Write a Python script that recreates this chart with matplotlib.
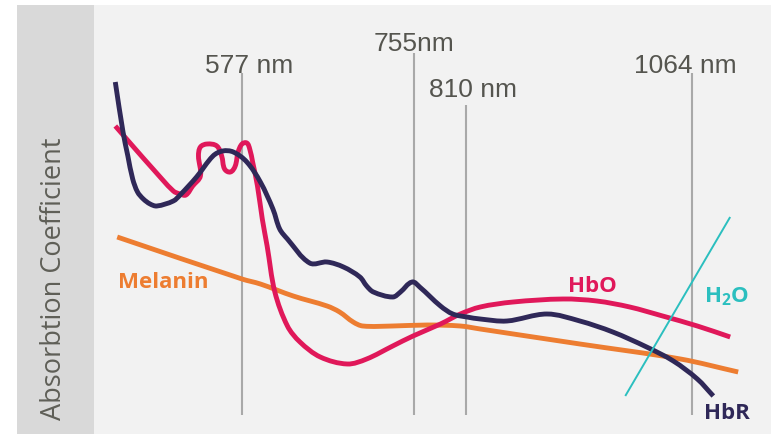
import numpy as np
import matplotlib
matplotlib.use("Agg")
import matplotlib.pyplot as plt
from matplotlib.patches import Rectangle, PathPatch
from matplotlib.path import Path

# ---------------- data (wavelength in nm, absorption in arbitrary units) ----------------
marker_nm = [577, 755, 810, 1064]
marker_labels = ["577 nm", "755nm", "810 nm", "1064 nm"]
marker_top = [361, 381, 329, 361]

hbr_nm = [446, 454, 459, 464, 469, 475, 482, 489, 506, 513, 530, 547, 557, 568, 582,
          596, 609, 616, 624, 647, 665, 682, 699, 706, 713, 733, 741, 753, 761, 783,
          796, 811, 826, 856, 901, 938, 975, 1013, 1043, 1070, 1088]
hbr_val = [352, 302, 278, 255, 242, 235, 230, 228, 233, 239, 257, 278, 283, 282, 272,
           252, 225, 205, 195, 171, 172, 167, 157, 148, 142, 137, 142, 152, 147, 128,
           120, 117, 115, 113, 120, 113, 102, 87, 73, 55, 38]

hbo_nm = [446, 464, 485, 506, 513, 519, 526, 534, 532, 534, 541, 551, 556, 559, 565,
          570, 573, 577, 582, 585, 588, 593, 598, 603, 611, 624, 637, 658, 686, 706,
          733, 754, 783, 804, 826, 863, 919, 957, 994, 1031, 1070, 1107]
hbo_val = [308, 288, 265, 243, 240, 239, 248, 258, 278, 287, 290, 288, 278, 265, 262,
           268, 282, 290, 291, 285, 272, 248, 215, 188, 142, 108, 92, 77, 70, 75,
           88, 98, 110, 120, 127, 132, 135, 133, 127, 118, 108, 97]

mel_nm = [448, 577, 596, 630, 665, 678, 692, 702, 733, 769, 804, 826, 938, 1051, 1116]
mel_val = [197, 155, 150, 138, 128, 122, 112, 108, 108, 109, 108, 105, 90, 75, 62]

h2o_nm = [989, 1107]
h2o_val = [38, 217]

# ---------------- figure ----------------
W, H = 775, 435
fig = plt.figure(figsize=(W / 100, H / 100), dpi=100)
fig.patch.set_facecolor("white")


def fx(px):
    return px / W


def fy(py):
    return 1 - py / H


# background panels
fig.patches.append(Rectangle((fx(17), 0), fx(94) - fx(17), fy(6), transform=fig.transFigure,
                             facecolor="#d9d9d9", edgecolor="none", zorder=-2))
fig.patches.append(Rectangle((fx(94), 0), fx(771) - fx(94), fy(6), transform=fig.transFigure,
                             facecolor="#f2f2f2", edgecolor="none", zorder=-2))

ax = fig.add_axes([fx(94), 0, fx(771) - fx(94), fy(6)])
ax.set_facecolor("none")
ax.set_zorder(1)

# piecewise-linear wavelength scale (the original axis is not linear)
anchor_nm = np.array([424.0, 577, 755, 810, 1064, 1153])
anchor_pos = np.array([94.0, 242, 414, 466, 692, 771])


def fwd(x):
    return np.interp(x, anchor_nm, anchor_pos)


def inv(p):
    return np.interp(p, anchor_pos, anchor_nm)


ax.set_xscale("function", functions=(fwd, inv))
ax.set_xlim(424, 1153)
ax.set_ylim(0, 429)
ax.axis("off")


def smooth_path(xs, ys):
    """Smooth Bezier path passing through every data point."""
    p = np.column_stack([np.asarray(xs, float), np.asarray(ys, float)])
    n = len(p)
    tang = np.zeros_like(p)
    for i in range(n):
        a = p[max(i - 1, 0)]
        b = p[min(i + 1, n - 1)]
        d = b - a
        nrm = np.hypot(*d)
        tang[i] = d / nrm if nrm > 0 else d
    verts = [p[0]]
    codes = [Path.MOVETO]
    for i in range(n - 1):
        L = np.hypot(*(p[i + 1] - p[i])) / 3.0
        verts += [p[i] + tang[i] * L, p[i + 1] - tang[i + 1] * L, p[i + 1]]
        codes += [Path.CURVE4] * 3
    return Path(np.array(verts), codes)


def curve(xs, ys, color, lw, z):
    ax.add_patch(PathPatch(smooth_path(xs, ys), facecolor="none", edgecolor=color,
                           lw=lw, capstyle="butt", joinstyle="round", zorder=z))


tick_color = "#55554f"
for nm, top in zip(marker_nm, marker_top):
    ax.plot([nm, nm], [19, top], color="#a9a9a9", lw=1.5, zorder=1, solid_capstyle="butt")

label_x = [584, 755, 818, 1057]
label_y = [362, 384, 338, 362]
for lab, x, y in zip(marker_labels, label_x, label_y):
    ax.text(x, y, lab, ha="center", va="baseline", fontsize=19,
            family="Liberation Sans", color=tick_color)

lw = 3.5
curve(mel_nm, mel_val, "#ed7d31", lw, 3)
curve(hbo_nm, hbo_val, "#e0185a", lw, 4)
curve(hbr_nm, hbr_val, "#2f2858", lw, 5)
ax.plot(h2o_nm, h2o_val, color="#2bbfbf", lw=1.4, zorder=6, solid_capstyle="butt")

plt.rcParams["mathtext.fontset"] = "custom"
plt.rcParams["mathtext.rm"] = "Open Sans:bold"
plt.rcParams["mathtext.it"] = "Open Sans:bold"
plt.rcParams["mathtext.bf"] = "Open Sans:bold"

lab_kw = dict(ha="left", va="baseline", fontsize=16, family="Open Sans", fontweight="bold")
ax.text(449, 147, "Melanin", color="#ed7d31", **lab_kw)
ax.text(925, 143, "HbO", color="#e0185a", **lab_kw)
ax.text(1077, 133, r"H$_\mathrm{2}$O", color="#2bbfbf", **lab_kw)
ax.text(1077, 16, "HbR", color="#2f2858", **lab_kw)

fig.text(fx(54), fy(279), "Absorbtion Coefficient", rotation=90, ha="center", va="center",
         fontsize=19.5, family="Open Sans", fontweight="normal", color="#5f5f57")

fig.savefig("out.png", dpi=100)
